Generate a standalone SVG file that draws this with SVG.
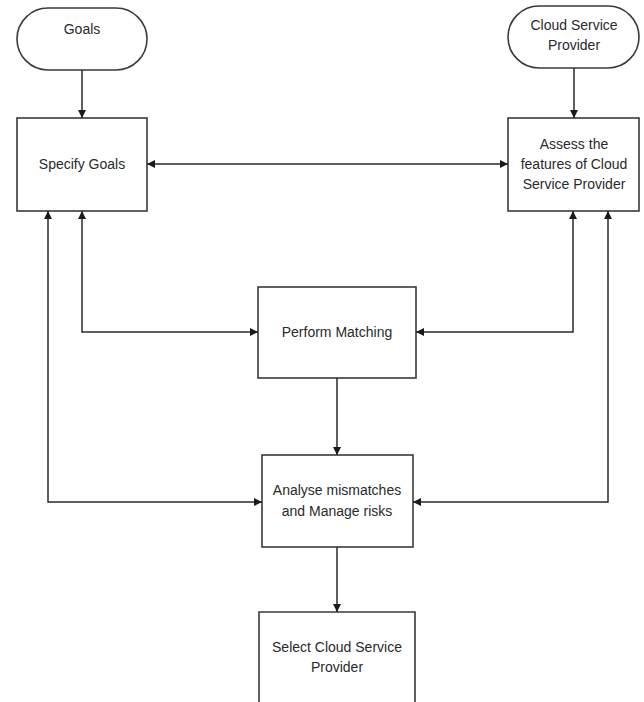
<svg xmlns="http://www.w3.org/2000/svg" width="644" height="702" viewBox="0 0 644 702">
  <style>
    .box { fill: #ffffff; stroke: #3a3a3a; stroke-width: 1.6; }
    .lbl { font-family: "Liberation Sans", Arial, sans-serif; font-size: 14px; fill: #2a2a2a; text-anchor: middle; }
    .conn { fill: none; stroke: #2a2a2a; stroke-width: 1.5; }
  </style>
  <defs>
    <marker id="arr" viewBox="0 0 10 10" refX="10" refY="5" markerWidth="8" markerHeight="8" markerUnits="userSpaceOnUse" orient="auto-start-reverse">
      <path d="M0,0 L10,5 L0,10 Z" fill="#1a1a1a"/>
    </marker>
  </defs>
  <rect width="644" height="702" fill="#ffffff"/>

  <g id="goals">
    <rect class="box" x="17" y="8" width="130" height="62" rx="31" ry="31"/>
    <text class="lbl" x="82" y="34">Goals</text>
  </g>
  <g id="csp">
    <rect class="box" x="508" y="6" width="131" height="62" rx="31" ry="31"/>
    <text class="lbl" x="574" y="30">Cloud Service</text>
    <text class="lbl" x="574" y="50">Provider</text>
  </g>
  <g id="specify">
    <rect class="box" x="17" y="118" width="130" height="93"/>
    <text class="lbl" x="82" y="169">Specify Goals</text>
  </g>
  <g id="assess">
    <rect class="box" x="508" y="118" width="131" height="93"/>
    <text class="lbl" x="574" y="149">Assess the</text>
    <text class="lbl" x="574" y="169">features of Cloud</text>
    <text class="lbl" x="574" y="189">Service Provider</text>
  </g>
  <g id="perform">
    <rect class="box" x="258" y="287" width="158" height="91"/>
    <text class="lbl" x="337" y="337">Perform Matching</text>
  </g>
  <g id="analyse">
    <rect class="box" x="262" y="455" width="151" height="92"/>
    <text class="lbl" x="337" y="495">Analyse mismatches</text>
    <text class="lbl" x="337" y="516">and Manage risks</text>
  </g>
  <g id="select">
    <path class="box" d="M259,704 L259,612 L415,612 L415,704"/>
    <text class="lbl" x="337" y="652">Select Cloud Service</text>
    <text class="lbl" x="337" y="672">Provider</text>
  </g>

  <g id="connectors">
    <path class="conn" d="M82,70 L82,118" marker-end="url(#arr)"/>
    <path class="conn" d="M574,68 L574,118" marker-end="url(#arr)"/>
    <path class="conn" d="M147,164 L508,164" marker-start="url(#arr)" marker-end="url(#arr)"/>
    <path class="conn" d="M82,211 L82,332 L258,332" marker-start="url(#arr)" marker-end="url(#arr)"/>
    <path class="conn" d="M573,211 L573,332 L416,332" marker-start="url(#arr)" marker-end="url(#arr)"/>
    <path class="conn" d="M48,211 L48,502 L262,502" marker-start="url(#arr)" marker-end="url(#arr)"/>
    <path class="conn" d="M608,211 L608,502 L413,502" marker-start="url(#arr)" marker-end="url(#arr)"/>
    <path class="conn" d="M337,378 L337,455" marker-end="url(#arr)"/>
    <path class="conn" d="M337,547 L337,612" marker-end="url(#arr)"/>
  </g>
</svg>
